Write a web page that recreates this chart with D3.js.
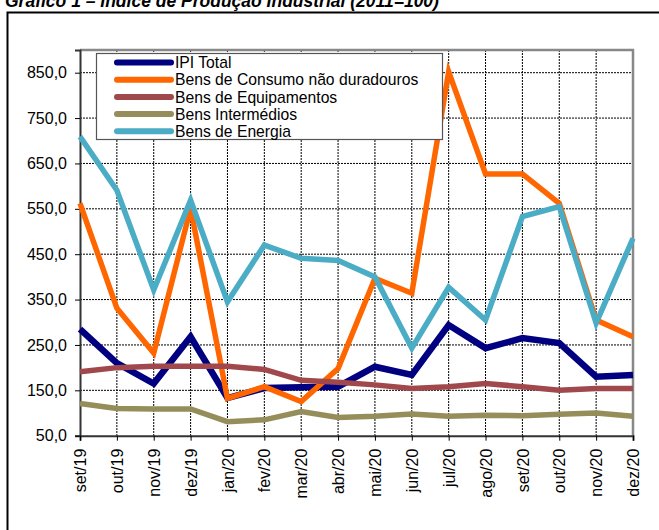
<!DOCTYPE html>
<html><head><meta charset="utf-8">
<script src="https://cdn.jsdelivr.net/npm/d3@7"></script>
<style>body{margin:0;background:#fff}svg{display:block}</style>
</head><body>
<svg id="c" width="659" height="530"></svg>
<script>
const title = "Gráfico 1 – Índice de Produção Industrial (2011=100)";
const months = ["set/19","out/19","nov/19","dez/19","jan/20","fev/20","mar/20","abr/20","mai/20","jun/20","jul/20","ago/20","set/20","out/20","nov/20","dez/20"];
const yTicks = [50,150,250,350,450,550,650,750,850];
const seriesNames = ["IPI Total","Bens de Consumo não duradouros","Bens de Equipamentos","Bens Intermédios","Bens de Energia"];
const ipiTotal   = [285,210,165,268,133,155,157,158,202,184,294,243,265,254,180,184];
const consumo    = [562,331,232,551,132,158,125,198,397,364,852,627,627,562,305,268];
const equipament = [191,200,203,203,203,196,172,168,162,154,158,165,158,150,154,154];
const intermed   = [121,110,109,109,81,85,103,90,93,98,93,95,94,97,100,93];
const energia    = [709,591,371,569,345,470,441,436,400,243,377,305,533,555,298,485];
const colors = ["#000080","#ff6600","#a0484c","#968e5a","#4bacc6"];

const svg = d3.select("#c");
const font = "Liberation Sans, Arial, sans-serif";
const L = 80, R = 633, T = 50, B = 435.7;
const x = d3.scalePoint().domain(months).range([L, R]);
const y = d3.scaleLinear().domain([50, 900]).range([B, T]);

// outer frame
svg.append("path").attr("d", `M7.5,540 V12.5 H670`).attr("fill","none").attr("stroke","#000").attr("stroke-width",2);

// title
svg.append("text").attr("x",5).attr("y",6.5).attr("font-family",font).attr("font-size",17.5)
  .attr("font-weight","bold").attr("font-style","italic").text(title);

// grid
const g = svg.append("g");
g.selectAll(".hg").data(yTicks.filter(v=>v>50)).enter().append("line")
  .attr("x1",L).attr("x2",R).attr("y1",d=>y(d)).attr("y2",d=>y(d))
  .attr("stroke","#000").attr("stroke-width",1).attr("stroke-dasharray","2,1");
g.selectAll(".vg").data(months.slice(1,-1)).enter().append("line")
  .attr("x1",d=>x(d)).attr("x2",d=>x(d)).attr("y1",T).attr("y2",B)
  .attr("stroke","#000").attr("stroke-width",1).attr("stroke-dasharray","2,1");

// plot border (gray)
svg.append("path").attr("d",`M${L},${T} H${R} V${B}`).attr("fill","none").attr("stroke","#888").attr("stroke-width",2.5);

// axes
const yAxis = d3.axisLeft(y).tickValues(yTicks).tickSize(5).tickPadding(8)
  .tickFormat(d=>d3.format(".1f")(d).replace(".",","));
const ya = svg.append("g").attr("transform",`translate(${L},0)`).call(yAxis);
ya.select(".domain").attr("stroke","#333").attr("stroke-width",2);
ya.selectAll("text").attr("font-family",font).attr("font-size",16).attr("fill","#000");

const xAxis = d3.axisBottom(x).tickSize(5).tickPadding(2);
const xa = svg.append("g").attr("transform",`translate(0,${B})`).call(xAxis);
xa.select(".domain").attr("stroke","#333").attr("stroke-width",2);
xa.selectAll("text").attr("font-family",font).attr("font-size",16).attr("fill","#000")
  .attr("transform","rotate(-90)").attr("text-anchor","end").attr("dy","0.35em")
  .attr("x",-13).attr("y",0);

// lines
const all = [ipiTotal, consumo, equipament, intermed, energia];
const line = d3.line().x((d,i)=>x(months[i])).y(d=>y(d));
svg.append("g").selectAll("path").data(all).enter().append("path")
  .attr("d",line).attr("fill","none").attr("stroke",(d,i)=>colors[i])
  .attr("stroke-width",(d,i)=>i===0?6.5:5.5).attr("stroke-linejoin","miter");

// legend
const lg = svg.append("g");
lg.append("rect").attr("x",96.5).attr("y",53.5).attr("width",346).attr("height",86)
  .attr("fill","#fff").attr("stroke","#555").attr("stroke-width",1.2);
const items = lg.selectAll(".it").data(seriesNames).enter().append("g")
  .attr("transform",(d,i)=>`translate(0,${62.5+i*17.2})`);
items.append("line").attr("x1",117).attr("x2",171).attr("y1",0).attr("y2",0)
  .attr("stroke",(d,i)=>colors[i]).attr("stroke-width",6).attr("stroke-linecap","round");
items.append("text").attr("x",175).attr("y",0).attr("dy","0.36em").attr("font-family",font)
  .attr("font-size",15.7).attr("fill","#000").text(d=>d);
</script>
</body></html>
